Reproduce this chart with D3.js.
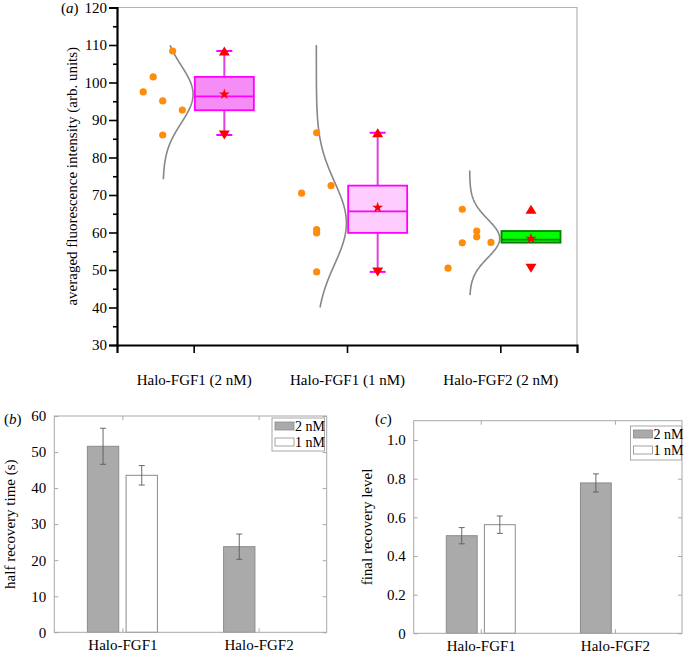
<!DOCTYPE html>
<html>
<head>
<meta charset="utf-8">
<script src="https://cdn.jsdelivr.net/npm/d3@7/dist/d3.min.js"></script>
<style>
  body { margin: 0; background: #fff; }
  svg { display: block; }
  text { font-family: "Liberation Serif", "Times New Roman", serif; fill: #000; }
</style>
</head>
<body>
<svg id="chart" width="684" height="654"></svg>
<script>
// ---------------- Panel (a) data ----------------
const catsA = ["Halo-FGF1 (2 nM)", "Halo-FGF1 (1 nM)", "Halo-FGF2 (2 nM)"];
const yTicksA = [30, 40, 50, 60, 70, 80, 90, 100, 110, 120];
const pointsA = [
  [108.4, 101.5, 97.5, 95.1, 92.65, 86.0],
  [86.6, 72.5, 70.5, 60.8, 59.9, 49.5],
  [66.2, 60.4, 58.85, 57.25, 57.35, 50.5]
];
const jitterA = [
  [-0.137, -0.264, -0.329, -0.202, -0.074, -0.202],
  [-0.198, -0.104, -0.296, -0.198, -0.198, -0.198],
  [-0.248, -0.154, -0.154, -0.248, -0.061, -0.341]
];
const q1A = [92.6, 59.9, 57.3];
const medianA = [96.3, 65.65, 58.1];
const q3A = [101.5, 72.5, 60.4];
const whiskerLoA = [86.0, 49.5, 57.3];
const whiskerHiA = [108.4, 86.6, 60.4];
const meanA = [96.86, 66.63, 58.4];
const maxA = [108.4, 86.6, 66.2];
const minA = [86.0, 49.5, 50.5];
const curveMeanA = [96.86, 62.5, 58.4];
const curveSdA = [7.67, 11, 5.1];
const curveLoA = [74.2, 40, 43.3];
const curveHiA = [110, 110, 76.6];
const boxFillA = ["#f68cf6", "#ffccff", "#00ff00"];
const boxStrokeA = ["#ff00ff", "#ff00ff", "#008000"];

// ---------------- Panels (b), (c) data ----------------
const catsBC = ["Halo-FGF1", "Halo-FGF2"];
const seriesNames = ["2 nM", "1 nM"];
const halfTime2nM = [51.6, 23.75];
const halfTime2nMErr = [5.0, 3.5];
const halfTime1nM = [43.55, null];
const halfTime1nMErr = [2.7, null];
const yTicksB = [0, 10, 20, 30, 40, 50, 60];
const final2nM = [0.505, 0.778];
const final2nMErr = [0.042, 0.047];
const final1nM = [0.562, null];
const final1nMErr = [0.045, null];
const yTicksC = [0, 0.2, 0.4, 0.6, 0.8, 1.0];

const svg = d3.select("#chart");
const FS = 15;

// ================= Panel (a) =================
(function () {
  const L = 117, R = 577, T = 7.5, B = 345;
  const x = d3.scaleLinear().domain([0.5, 3.5]).range([L, R]);
  const y = d3.scaleLinear().domain([30, 120]).range([B, T]);
  const unit = x(1) - x(0);
  const g = svg.append("g");

  // top & right border
  g.append("path").attr("d", `M${L},${T}H${R}V${B}`)
    .attr("fill", "none").attr("stroke", "#b4b4b4").attr("stroke-width", 1.2);

  // distribution curves
  catsA.forEach((c, i) => {
    const base = x(i + 1) - 0.2 * unit;
    const amp = 0.196 * unit;
    const ys = d3.range(curveLoA[i], curveHiA[i] + 0.001, 0.25);
    const line = d3.line()
      .x(v => base + amp * Math.exp(-0.5 * Math.pow((v - curveMeanA[i]) / curveSdA[i], 2)))
      .y(v => y(v))
      .curve(d3.curveLinear);
    g.append("path").datum(ys).attr("d", line)
      .attr("fill", "none").attr("stroke", "#878787").attr("stroke-width", 1.6);
  });

  // data points
  catsA.forEach((c, i) => {
    g.selectAll(null).data(pointsA[i]).enter().append("circle")
      .attr("cx", (v, j) => x(i + 1 + jitterA[i][j]))
      .attr("cy", v => y(v))
      .attr("r", 3.6)
      .attr("fill", "#ff8c0a");
  });

  // boxes
  catsA.forEach((c, i) => {
    const cx = x(i + 1.2);
    const hw = 0.1925 * unit;
    const capW = 8;
    const wc = i === 2 ? "#008000" : "#e040e0";
    if (whiskerHiA[i] > q3A[i]) {
      g.append("line").attr("x1", cx).attr("x2", cx).attr("y1", y(q3A[i])).attr("y2", y(whiskerHiA[i]))
        .attr("stroke", wc).attr("stroke-width", 2);
      g.append("line").attr("x1", cx - capW).attr("x2", cx + capW).attr("y1", y(whiskerHiA[i])).attr("y2", y(whiskerHiA[i]))
        .attr("stroke", boxStrokeA[i]).attr("stroke-width", 2);
    }
    if (whiskerLoA[i] < q1A[i]) {
      g.append("line").attr("x1", cx).attr("x2", cx).attr("y1", y(q1A[i])).attr("y2", y(whiskerLoA[i]))
        .attr("stroke", wc).attr("stroke-width", 2);
      g.append("line").attr("x1", cx - capW).attr("x2", cx + capW).attr("y1", y(whiskerLoA[i])).attr("y2", y(whiskerLoA[i]))
        .attr("stroke", boxStrokeA[i]).attr("stroke-width", 2);
    }
    g.append("rect").attr("x", cx - hw).attr("width", 2 * hw)
      .attr("y", y(q3A[i])).attr("height", y(q1A[i]) - y(q3A[i]))
      .attr("fill", boxFillA[i]).attr("stroke", boxStrokeA[i]).attr("stroke-width", 1.8);
    g.append("line").attr("x1", cx - hw).attr("x2", cx + hw).attr("y1", y(medianA[i])).attr("y2", y(medianA[i]))
      .attr("stroke", boxStrokeA[i]).attr("stroke-width", 1.8);
    // mean star
    g.append("path").attr("d", d3.symbol(d3.symbolStar, 38)())
      .attr("transform", `translate(${cx},${y(meanA[i])})`).attr("fill", "#ff0000");
    // max / min triangles
    g.append("path").attr("d", "M0,-4.5L5.5,4.5L-5.5,4.5Z")
      .attr("transform", `translate(${cx},${y(maxA[i])})`).attr("fill", "#ff0000");
    g.append("path").attr("d", "M0,4.5L5.5,-4.5L-5.5,-4.5Z")
      .attr("transform", `translate(${cx},${y(minA[i])})`).attr("fill", "#ff0000");
  });

  // axes
  const minor = g.append("g").attr("transform", `translate(${L},0)`)
    .call(d3.axisLeft(y).tickValues(d3.range(35, 120, 10)).tickSize(4).tickFormat(""));
  minor.select(".domain").remove();
  minor.selectAll("line").attr("stroke", "#000").attr("stroke-width", 1.6);
  const ya = g.append("g").attr("transform", `translate(${L},0)`)
    .call(d3.axisLeft(y).tickValues(yTicksA).tickSize(8).tickPadding(2));
  ya.select(".domain").attr("stroke", "#000").attr("stroke-width", 2.2);
  ya.selectAll("line").attr("stroke", "#000").attr("stroke-width", 1.6);
  ya.selectAll("text").attr("font-size", FS).attr("font-family", "Liberation Serif");

  const xa = g.append("g").attr("transform", `translate(0,${B})`)
    .call(d3.axisBottom(x).tickValues([1, 2, 3]).tickSize(8).tickPadding(21)
      .tickFormat(d => catsA[d - 1]));
  xa.select(".domain").attr("stroke", "#000").attr("stroke-width", 2.2);
  xa.selectAll("line").attr("stroke", "#000").attr("stroke-width", 1.6);
  xa.selectAll("text").attr("font-size", FS).attr("font-family", "Liberation Serif");

  // y label
  g.append("text").attr("transform", `translate(77,${(T + B) / 2}) rotate(-90)`)
    .attr("text-anchor", "middle").attr("font-size", FS)
    .text("averaged fluorescence intensity (arb. units)");
  // panel label
  const pl = g.append("text").attr("x", 61).attr("y", 12.5).attr("font-size", FS);
  pl.append("tspan").text("(");
  pl.append("tspan").attr("font-style", "italic").text("a");
  pl.append("tspan").text(")");
})();

// ================= Bar panels =================
function barPanel(opts) {
  const { L, R, T, B, domainY, ticks, fmt, s2, s2e, s1, s1e, yLabel, labelX, panel, panelX, legend } = opts;
  const x = d3.scaleLinear().domain([0.5, 2.5]).range([L, R]);
  const y = d3.scaleLinear().domain(domainY).range([B, T]);
  const g = svg.append("g");
  const axisCol = "#a8a8a8";
  const bw = 0.23, off = 0.142;

  const series = [
    { vals: s2, errs: s2e, dx: -off, fill: "#aaaaaa", stroke: "#8c8c8c" },
    { vals: s1, errs: s1e, dx: off, fill: "#ffffff", stroke: "#8c8c8c" }
  ];
  series.forEach(s => {
    s.vals.forEach((v, i) => {
      if (v == null) return;
      const c = x(i + 1 + s.dx);
      const w = x(bw) - x(0);
      g.append("rect").attr("x", c - w / 2).attr("width", w)
        .attr("y", y(v)).attr("height", y(domainY[0]) - y(v))
        .attr("fill", s.fill).attr("stroke", s.stroke).attr("stroke-width", 1);
      const e = s.errs[i];
      const eg = g.append("g").attr("stroke", "#5a5a5a").attr("stroke-width", 0.9);
      eg.append("line").attr("x1", c).attr("x2", c).attr("y1", y(v - e)).attr("y2", y(v + e));
      eg.append("line").attr("x1", c - 3).attr("x2", c + 3).attr("y1", y(v - e)).attr("y2", y(v - e));
      eg.append("line").attr("x1", c - 3).attr("x2", c + 3).attr("y1", y(v + e)).attr("y2", y(v + e));
    });
  });

  // box
  g.append("rect").attr("x", L).attr("y", T).attr("width", R - L).attr("height", B - T)
    .attr("fill", "none").attr("stroke", axisCol).attr("stroke-width", 1);

  const ya = g.append("g").attr("transform", `translate(${L},0)`)
    .call(d3.axisLeft(y).tickValues(ticks).tickSize(-4).tickPadding(8).tickFormat(fmt));
  ya.select(".domain").remove();
  ya.selectAll("line").attr("stroke", axisCol);
  ya.selectAll("text").attr("font-size", FS).attr("font-family", "Liberation Serif");
  const yr = g.append("g").attr("transform", `translate(${R},0)`)
    .call(d3.axisRight(y).tickValues(ticks).tickSize(-4).tickFormat(""));
  yr.select(".domain").remove();
  yr.selectAll("line").attr("stroke", axisCol);

  const xa = g.append("g").attr("transform", `translate(0,${B})`)
    .call(d3.axisBottom(x).tickValues([1, 2]).tickSize(-4).tickPadding(7).tickFormat(d => catsBC[d - 1]));
  xa.select(".domain").remove();
  xa.selectAll("line").attr("stroke", axisCol);
  xa.selectAll("text").attr("font-size", FS).attr("font-family", "Liberation Serif");
  const xt = g.append("g").attr("transform", `translate(0,${T})`)
    .call(d3.axisTop(x).tickValues([1, 2]).tickSize(-4).tickFormat(""));
  xt.select(".domain").remove();
  xt.selectAll("line").attr("stroke", axisCol);

  // legend
  const lg = g.append("g");
  lg.append("rect").attr("x", legend.x).attr("y", legend.y).attr("width", legend.w).attr("height", legend.h)
    .attr("fill", "#fff").attr("stroke", axisCol).attr("stroke-width", 1);
  series.forEach((s, k) => {
    const yy = legend.y + 4 + k * 16;
    lg.append("rect").attr("x", legend.x + 3).attr("y", yy).attr("width", 19).attr("height", 8)
      .attr("fill", s.fill).attr("stroke", s.stroke).attr("stroke-width", 0.8);
    lg.append("text").attr("x", legend.x + 23).attr("y", yy + 9).attr("font-size", 14).text(seriesNames[k]);
  });

  g.append("text").attr("transform", `translate(${labelX},${(T + B) / 2}) rotate(-90)`)
    .attr("text-anchor", "middle").attr("font-size", FS).text(yLabel);
  const pl = g.append("text").attr("x", panelX).attr("y", 424).attr("font-size", FS);
  pl.append("tspan").text("(");
  pl.append("tspan").attr("font-style", "italic").text(panel);
  pl.append("tspan").text(")");
}

barPanel({
  L: 54.3, R: 326.7, T: 416, B: 632.3, domainY: [0, 60], ticks: yTicksB, fmt: d3.format("d"),
  s2: halfTime2nM, s2e: halfTime2nMErr, s1: halfTime1nM, s1e: halfTime1nMErr,
  yLabel: "half recovery time (s)", labelX: 15, panel: "b", panelX: 4,
  legend: { x: 272, y: 418, w: 52.5, h: 33 }
});
barPanel({
  L: 413.7, R: 682, T: 420.7, B: 633.3, domainY: [0, 1.1], ticks: yTicksC,
  fmt: d => d === 0 ? "0" : d3.format(".1f")(d),
  s2: final2nM, s2e: final2nMErr, s1: final1nM, s1e: final1nMErr,
  yLabel: "final recovery level", labelX: 372, panel: "c", panelX: 375,
  legend: { x: 630.5, y: 426, w: 51, h: 34 }
});
</script>
</body>
</html>
